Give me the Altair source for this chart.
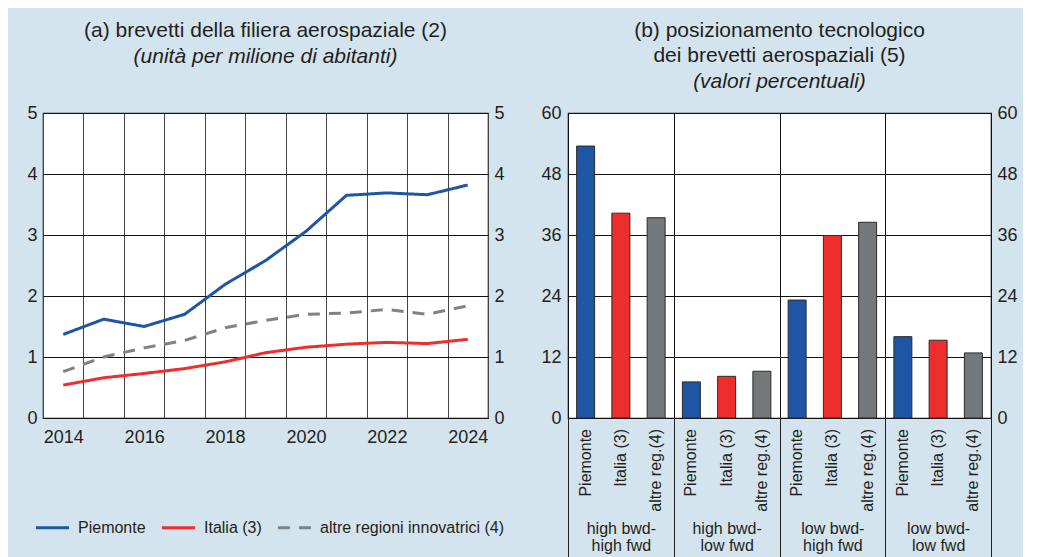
import altair as alt
import pandas as pd

# ---------------- data ----------------
years = list(range(2014, 2025))
series_a = ["Piemonte", "Italia (3)", "altre regioni innovatrici (4)"]
piemonte = [1.37, 1.62, 1.50, 1.70, 2.19, 2.58, 3.06, 3.65, 3.69, 3.66, 3.82]
italia = [0.54, 0.66, 0.73, 0.81, 0.92, 1.07, 1.16, 1.21, 1.24, 1.22, 1.29]
altre = [0.76, 1.00, 1.15, 1.27, 1.48, 1.60, 1.70, 1.72, 1.78, 1.70, 1.84]

groups = ["high bwd-|high fwd", "high bwd-|low fwd", "low bwd-|high fwd", "low bwd-|low fwd"]
bar_series = ["Piemonte", "Italia (3)", "altre reg.(4)"]
bar_piemonte = [53.5, 7.1, 23.2, 16.0]
bar_italia = [40.3, 8.2, 35.9, 15.3]
bar_altre = [39.4, 9.2, 38.5, 12.8]

# ---------------- styles ----------------
BLUE = "#1f55a5"
RED = "#ee2d2d"
GREY_LINE = "#7f8285"
GREY_BAR = "#75787b"
BG = "#d4e4ee"
TXT = "#231f20"
FONT = "Liberation Sans"

df_a = pd.DataFrame({
    "year": years * 3,
    "value": piemonte + italia + altre,
    "serie": [s for s in series_a for _ in years],
})

rows = []
for s, vals in zip(bar_series, [bar_piemonte, bar_italia, bar_altre]):
    for g, v in zip(groups, vals):
        rows.append({"gruppo": g, "paese": s, "quota": v})
df_b = pd.DataFrame(rows)

# ---------------- panel (a) ----------------
xa = alt.X(
    "year:O",
    bandPosition=0.5,
    scale=alt.Scale(type="band", paddingInner=0, paddingOuter=0),
    axis=alt.Axis(
        title=None, tickBand="extent", grid=True, gridColor="#444", gridWidth=1,
        ticks=False, domain=False, labelAngle=0, labelPadding=10,
        labelExpr="toNumber(datum.value) % 2 == 0 ? datum.label : ''",
        labelFontSize=18, labelColor=TXT, labelFont=FONT,
    ),
)
ya_scale = alt.Scale(domain=[0, 5], nice=False)

leg = alt.Legend(
    title=None, orient="none", direction="horizontal",
    legendX=-9, legendY=396, symbolType="stroke",
    symbolStrokeWidth=3, symbolSize=1100, labelFontSize=16,
    labelColor=TXT, labelFont=FONT, columnPadding=9,
    labelOffset=7, labelLimit=400,
)

lines = alt.Chart(df_a).mark_line(strokeWidth=3).encode(
    x=xa,
    y=alt.Y("value:Q", scale=ya_scale, axis=alt.Axis(
        orient="left", title=None, values=[0, 1, 2, 3, 4, 5], grid=True,
        gridColor="#111", ticks=False, domain=False, labelPadding=6,
        labelFontSize=18, labelColor=TXT, labelFont=FONT)),
    color=alt.Color("serie:N", sort=series_a,
                    scale=alt.Scale(domain=series_a, range=[BLUE, RED, GREY_LINE]),
                    legend=leg),
    strokeDash=alt.StrokeDash("serie:N", sort=series_a,
                              scale=alt.Scale(domain=series_a, range=[[1, 0], [1, 0], [12, 9]]),
                              legend=leg),
)

right_a = alt.Chart(df_a).mark_line(opacity=0).encode(
    x=xa,
    y=alt.Y("value:Q", scale=ya_scale, axis=alt.Axis(
        orient="right", title=None, values=[0, 1, 2, 3, 4, 5], grid=False,
        ticks=False, domain=False, labelPadding=6,
        labelFontSize=18, labelColor=TXT, labelFont=FONT)),
)

panel_a = alt.layer(lines, right_a).resolve_axis(y="independent").properties(
    width=445, height=305,
    title=alt.TitleParams(
        text=["(a) brevetti della filiera aerospaziale (2)"],
        subtitle=["(unità per milione di abitanti)", " "],
    ),
)

# ---------------- panel (b) ----------------
xb = alt.X(
    "gruppo:N", sort=groups,
    scale=alt.Scale(paddingInner=0, paddingOuter=0),
    axis=alt.Axis(
        title=None, tickBand="extent", grid=True, gridColor="#111", gridWidth=1,
        ticks=True, tickSize=140, tickColor="#222", tickWidth=1, domain=False,
        labelAngle=0, labelPadding=-38, labelExpr="split(datum.label, '|')",
        labelLineHeight=17, labelFontSize=16, labelColor=TXT, labelFont=FONT,
        labelBaseline="top",
    ),
)
xob = alt.XOffset("paese:N", sort=bar_series,
                  scale=alt.Scale(paddingInner=0.49, paddingOuter=0.245))
yb_scale = alt.Scale(domain=[0, 60], nice=False)
yvals = [0, 12, 24, 36, 48, 60]

bars = alt.Chart(df_b).mark_bar(stroke="#2a2a2a", strokeWidth=1).encode(
    x=xb, xOffset=xob,
    y=alt.Y("quota:Q", scale=yb_scale, axis=alt.Axis(
        orient="left", title=None, values=yvals, grid=True, gridColor="#111",
        ticks=False, domain=False, labelPadding=7,
        labelFontSize=18, labelColor=TXT, labelFont=FONT)),
    fill=alt.Fill("paese:N", sort=bar_series,
                  scale=alt.Scale(domain=bar_series, range=[BLUE, RED, GREY_BAR]),
                  legend=None),
)

right_b = alt.Chart(df_b).mark_bar(opacity=0).encode(
    x=xb, xOffset=xob,
    y=alt.Y("quota:Q", scale=yb_scale, axis=alt.Axis(
        orient="right", title=None, values=yvals, grid=False,
        ticks=False, domain=False, labelPadding=6,
        labelFontSize=18, labelColor=TXT, labelFont=FONT)),
)

serie_labels = alt.Chart(df_b).mark_text(
    angle=270, align="right", baseline="middle", fontSize=16, color=TXT, font=FONT
).encode(
    x=alt.X("gruppo:N", sort=groups, bandPosition=0.5), xOffset=xob,
    y=alt.value(316),
    text="paese:N",
)

panel_b = alt.layer(bars, right_b, serie_labels).resolve_axis(y="independent").properties(
    width=423, height=305,
    title=alt.TitleParams(
        text=["(b) posizionamento tecnologico", "dei brevetti aerospaziali (5)"],
        subtitle=["(valori percentuali)"],
    ),
)

chart = alt.hconcat(panel_a, panel_b, spacing=34).resolve_scale(
    color="independent", fill="independent", strokeDash="independent"
).properties(
    background=BG,
    padding={"left": 18, "top": 11, "right": 5, "bottom": 0},
).configure_view(
    stroke="#1a1a1a", strokeWidth=1.2, fill="white",
).configure_title(
    font=FONT, fontSize=21, fontWeight="normal", color=TXT, anchor="middle",
    lineHeight=25, subtitleFont=FONT, subtitleFontSize=21, subtitleFontStyle="italic",
    subtitleColor=TXT, subtitleLineHeight=25, subtitlePadding=5, offset=12,
)

chart.save("out.html", embed_options={"renderer": "svg", "actions": False})
